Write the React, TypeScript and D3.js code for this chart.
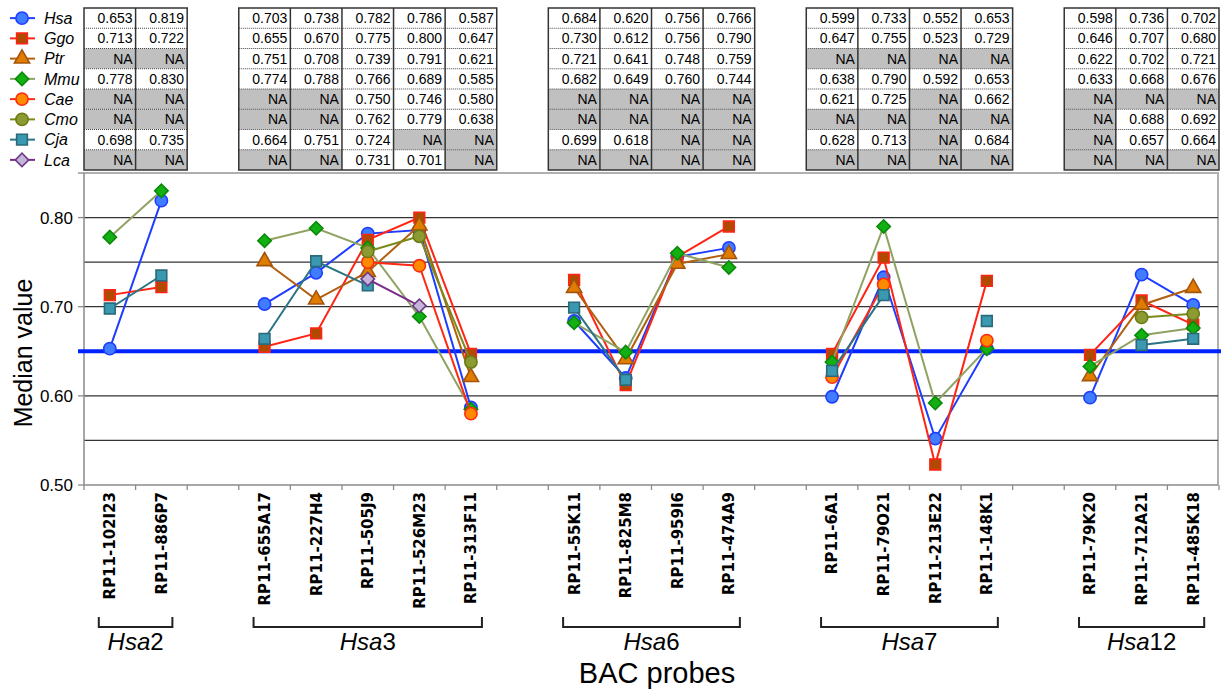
import React from "react";
import * as d3 from "d3";

const probes = [
  "RP11-102I23", "RP11-886P7",
  "RP11-655A17", "RP11-227H4", "RP11-505J9", "RP11-526M23", "RP11-313F11",
  "RP11-55K11", "RP11-825M8", "RP11-959I6", "RP11-474A9",
  "RP11-6A1", "RP11-79O21", "RP11-213E22", "RP11-148K1",
  "RP11-79K20", "RP11-712A21", "RP11-485K18",
];
const groupNames = ["2", "3", "6", "7", "12"];
const groupSizes = [2, 5, 4, 4, 3];

const species = ["Hsa", "Ggo", "Ptr", "Mmu", "Cae", "Cmo", "Cja", "Lca"];
const N = null;
const hsa = [0.653, 0.819, 0.703, 0.738, 0.782, 0.786, 0.587, 0.684, 0.620, 0.756, 0.766, 0.599, 0.733, 0.552, 0.653, 0.598, 0.736, 0.702];
const ggo = [0.713, 0.722, 0.655, 0.670, 0.775, 0.800, 0.647, 0.730, 0.612, 0.756, 0.790, 0.647, 0.755, 0.523, 0.729, 0.646, 0.707, 0.680];
const ptr = [N, N, 0.751, 0.708, 0.739, 0.791, 0.621, 0.721, 0.641, 0.748, 0.759, N, N, N, N, 0.622, 0.702, 0.721];
const mmu = [0.778, 0.830, 0.774, 0.788, 0.766, 0.689, 0.585, 0.682, 0.649, 0.760, 0.744, 0.638, 0.790, 0.592, 0.653, 0.633, 0.668, 0.676];
const cae = [N, N, N, N, 0.750, 0.746, 0.580, N, N, N, N, 0.621, 0.725, N, 0.662, N, N, N];
const cmo = [N, N, N, N, 0.762, 0.779, 0.638, N, N, N, N, N, N, N, N, N, 0.688, 0.692];
const cja = [0.698, 0.735, 0.664, 0.751, 0.724, N, N, 0.699, 0.618, N, N, 0.628, 0.713, N, 0.684, N, 0.657, 0.664];
const lca = [N, N, N, N, 0.731, 0.701, N, N, N, N, N, N, N, N, N, N, N, N];
const seriesValues = [hsa, ggo, ptr, mmu, cae, cmo, cja, lca];

const yTicks = [0.5, 0.6, 0.7, 0.8];
const yGrid = [0.55, 0.6, 0.65, 0.7, 0.75, 0.8];
const refValue = 0.65;

const styles = [
  { line: "#1f3dff", fill: "#3f7cff", stroke: "#1f3dff", shape: "circle" },
  { line: "#ff2414", fill: "#b04a00", stroke: "#ff2414", shape: "square" },
  { line: "#b0600f", fill: "#e07c00", stroke: "#a4540c", shape: "triangle" },
  { line: "#8fa262", fill: "#12b012", stroke: "#0a8a0a", shape: "diamond" },
  { line: "#ff2a14", fill: "#ff8a00", stroke: "#ff2a14", shape: "circle" },
  { line: "#7a8a1a", fill: "#8c9a32", stroke: "#6c7a14", shape: "circle" },
  { line: "#2b7484", fill: "#3a98b0", stroke: "#2a6a7a", shape: "square" },
  { line: "#7a2a8a", fill: "#c4b4da", stroke: "#6c3a84", shape: "diamond" },
];

// slot layout: groups separated by one empty slot
const slotOf: number[] = [];
const groupStart: number[] = [];
{
  let s = 0;
  let p = 0;
  groupSizes.forEach((g, gi) => {
    groupStart.push(p);
    for (let k = 0; k < g; k++) { slotOf.push(s); s++; p++; }
    if (gi < groupSizes.length - 1) s++;
  });
}
const nSlots = slotOf[slotOf.length - 1] + 1;

const X0 = 84, X1 = 1219;
const xBand = d3.scaleBand<number>().domain(d3.range(nSlots)).range([X0, X1]).paddingInner(0).paddingOuter(0);
const cx = (i: number) => (xBand(slotOf[i]) as number) + xBand.bandwidth() / 2;
const y = d3.scaleLinear().domain([0.5, 0.85]).range([485, 173]);

const tableTop = 8;
const rowH = 20.25;

function Marker({ shape, fill, stroke, x, yy }: any) {
  let path: string;
  let rot = 0;
  if (shape === "circle") path = d3.symbol().type(d3.symbolCircle).size(118)()!;
  else if (shape === "square") path = d3.symbol().type(d3.symbolSquare).size(115)()!;
  else if (shape === "triangle") path = d3.symbol().type(d3.symbolTriangle).size(100)()!;
  else { path = d3.symbol().type(d3.symbolSquare).size(90)()!; rot = 45; }
  return (
    <path d={path} transform={`translate(${x},${yy}) rotate(${rot})`} fill={fill} stroke={stroke} strokeWidth={1.6} />
  );
}

export default function App() {
  const lineGen = d3.line<{ i: number; v: number | null }>()
    .defined((d) => d.v != null)
    .x((d) => cx(d.i))
    .y((d) => y(d.v as number));

  const font = "'Liberation Sans', Arial, sans-serif";

  return (
    <svg width={1221} height={693} style={{ position: "absolute", left: 0, top: 0, background: "#fff" }} fontFamily={font}>
      {/* Legend */}
      {species.map((sp, si) => {
        const cy = tableTop + rowH * (si + 0.5);
        const st = styles[si];
        return (
          <g key={sp}>
            <line x1={10} x2={35} y1={cy} y2={cy} stroke={st.line} strokeWidth={2} />
            <Marker shape={st.shape} fill={st.fill} stroke={st.stroke} x={22} yy={cy} />
            <text x={44} y={cy} dy="0.36em" fontSize={16} fontStyle="italic" fill="#000">{sp}</text>
          </g>
        );
      })}

      {/* Tables */}
      {groupSizes.map((g, gi) => {
        const idx = d3.range(groupStart[gi], groupStart[gi] + g);
        const left = xBand(slotOf[idx[0]]) as number;
        const right = (xBand(slotOf[idx[idx.length - 1]]) as number) + xBand.bandwidth();
        const bottom = tableTop + rowH * species.length;
        return (
          <g key={"t" + gi}>
            {species.map((sp, si) =>
              idx.map((pi) => {
                const v = seriesValues[si][pi];
                const xl = xBand(slotOf[pi]) as number;
                const yt = tableTop + rowH * si;
                return (
                  <g key={sp + pi}>
                    <rect x={xl} y={yt} width={xBand.bandwidth()} height={rowH} fill={v == null ? "#c0c0c0" : "#fff"} />
                    <text x={xl + xBand.bandwidth() - 3} y={yt + rowH / 2} dy="0.36em" textAnchor="end" fontSize={14} fill="#000">
                      {v == null ? "NA" : v.toFixed(3)}
                    </text>
                  </g>
                );
              })
            )}
            {d3.range(1, species.length).map((r) => (
              <line key={"h" + r} x1={left} x2={right} y1={tableTop + rowH * r} y2={tableTop + rowH * r} stroke="#444" strokeWidth={1} strokeDasharray="1,1" />
            ))}
            {idx.slice(1).map((pi) => (
              <line key={"v" + pi} x1={xBand(slotOf[pi]) as number} x2={xBand(slotOf[pi]) as number} y1={tableTop} y2={bottom} stroke="#333" strokeWidth={1.5} />
            ))}
            <rect x={left} y={tableTop} width={right - left} height={bottom - tableTop} fill="none" stroke="#333" strokeWidth={1.5} />
          </g>
        );
      })}

      {/* Plot frame and grid */}
      <line x1={78} x2={1219} y1={y(0.85)} y2={y(0.85)} stroke="#b0b0b0" strokeWidth={2} />
      <line x1={1218} x2={1218} y1={y(0.85)} y2={y(0.5)} stroke="#b0b0b0" strokeWidth={2} />
      {yGrid.filter((v) => v !== refValue).map((v) => (
        <line key={"g" + v} x1={X0} x2={1218} y1={y(v)} y2={y(v)} stroke="#333" strokeWidth={1.3} />
      ))}
      <line x1={X0} x2={X0} y1={y(0.85)} y2={y(0.5)} stroke="#8a8a8a" strokeWidth={1.5} />
      <line x1={X0} x2={1218} y1={y(0.5)} y2={y(0.5)} stroke="#8a8a8a" strokeWidth={1.5} />
      {yTicks.map((v) => (
        <g key={"yt" + v}>
          <line x1={78} x2={X0} y1={y(v)} y2={y(v)} stroke="#8a8a8a" strokeWidth={1.3} />
          <text x={73} y={y(v)} dy="0.36em" textAnchor="end" fontSize={17} fill="#000">{v.toFixed(2)}</text>
        </g>
      ))}
      {d3.range(nSlots + 1).map((s) => {
        const xx = s < nSlots ? (xBand(s) as number) : X1;
        return <line key={"xt" + s} x1={xx} x2={xx} y1={y(0.5)} y2={y(0.5) + 5} stroke="#8a8a8a" strokeWidth={1.3} />;
      })}

      {/* Reference line */}
      <line x1={78} x2={1221} y1={y(refValue)} y2={y(refValue)} stroke="#0022ff" strokeWidth={4} />

      {/* Series */}
      {seriesValues.map((vals, si) => {
        const st = styles[si];
        return (
          <g key={"s" + si}>
            {groupSizes.map((g, gi) => {
              const pts = d3.range(groupStart[gi], groupStart[gi] + g).map((i) => ({ i, v: vals[i] }));
              return <path key={"l" + gi} d={lineGen(pts) || ""} fill="none" stroke={st.line} strokeWidth={2} />;
            })}
            {vals.map((v, i) =>
              v == null ? null : <Marker key={"m" + i} shape={st.shape} fill={st.fill} stroke={st.stroke} x={cx(i)} yy={y(v)} />
            )}
          </g>
        );
      })}

      {/* X labels */}
      {probes.map((p, i) => (
        <text key={p} transform={`translate(${cx(i)},492) rotate(-90)`} dy="0.36em" textAnchor="end"
          fontFamily="'DejaVu Sans', Verdana, sans-serif" fontWeight="bold" fontSize={15} fill="#000">{p}</text>
      ))}

      {/* Group brackets */}
      {groupSizes.map((g, gi) => {
        const a = cx(groupStart[gi]) - 11;
        const b = cx(groupStart[gi] + g - 1) + 11;
        return (
          <g key={"b" + gi}>
            <path d={`M${a},617V627H${b}V617`} fill="none" stroke="#222" strokeWidth={2} />
            <text x={(a + b) / 2} y={650} textAnchor="middle" fontSize={24} fill="#000">
              <tspan fontStyle="italic">Hsa</tspan>{groupNames[gi]}
            </text>
          </g>
        );
      })}

      {/* Axis titles */}
      <text x={657} y={683} textAnchor="middle" fontSize={29} fill="#000">BAC probes</text>
      <text transform="translate(32,353) rotate(-90)" textAnchor="middle" fontSize={25} fill="#000">Median value</text>
    </svg>
  );
}
